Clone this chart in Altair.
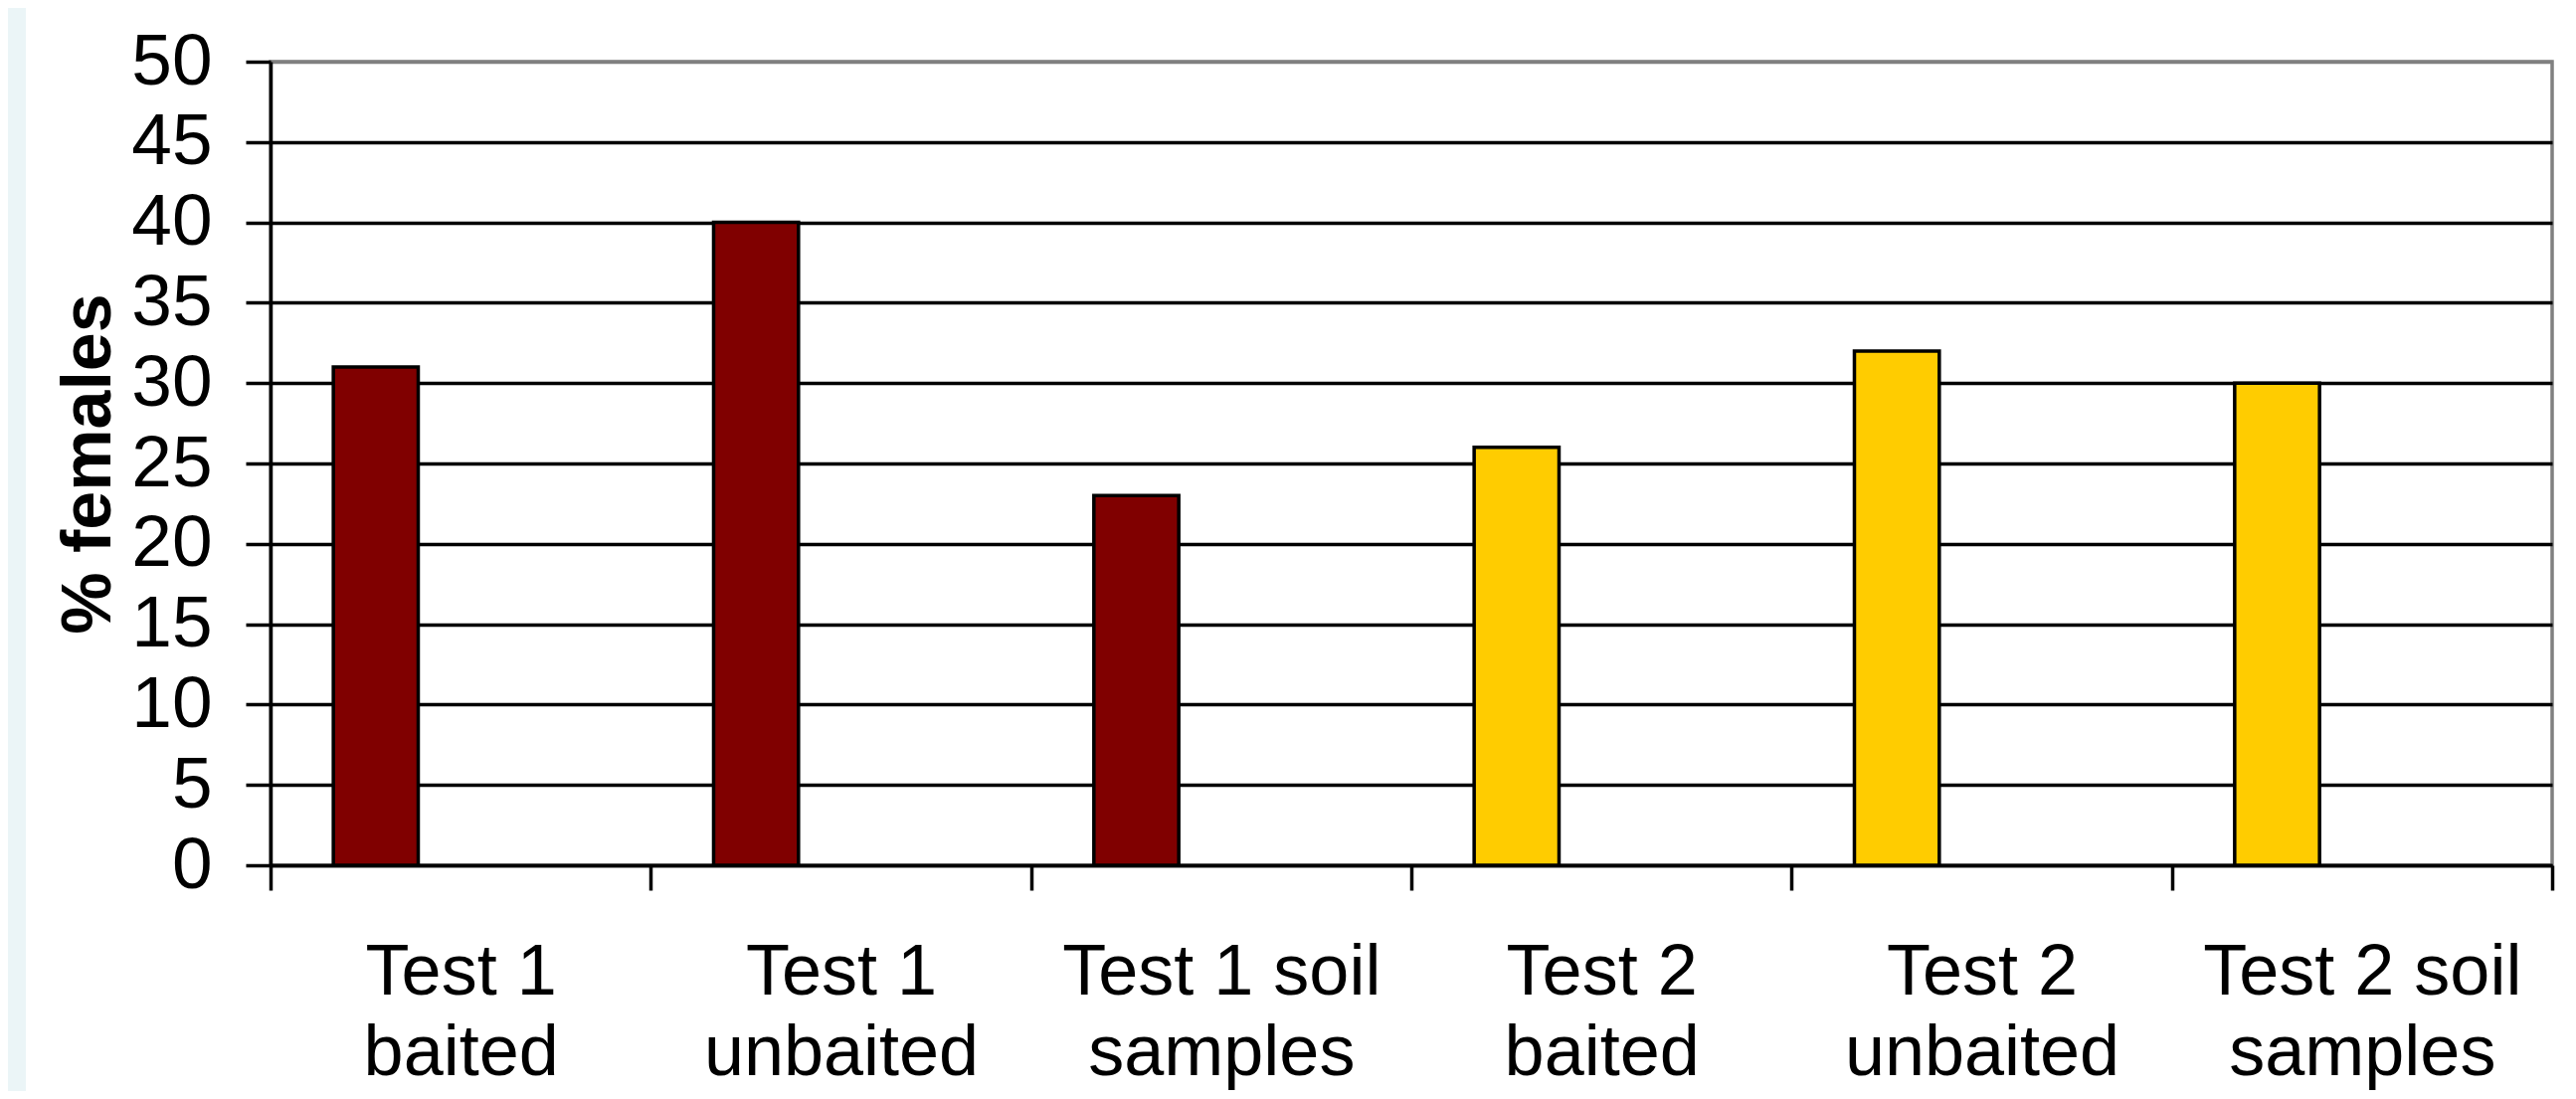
import altair as alt
import pandas as pd

# ---- data ----
categories = [
    "Test 1\nbaited",
    "Test 1\nunbaited",
    "Test 1 soil\nsamples",
    "Test 2\nbaited",
    "Test 2\nunbaited",
    "Test 2 soil\nsamples",
]
groups = ["Test 1", "Test 1", "Test 1", "Test 2", "Test 2", "Test 2"]
pct_females = [31, 40, 23, 26, 32, 30]
y_ticks = [0, 5, 10, 15, 20, 25, 30, 35, 40, 45, 50]
group_names = ["Test 1", "Test 2"]
group_colors = ["#800000", "#FFCC00"]
slots = ["A", "B", "C"]  # Excel-style clustered slots; bars sit in the first slot

df = pd.DataFrame({
    "cat": categories,
    "group": groups,
    "value": pct_females,
    "slot": ["A"] * len(categories),
})

FONT = "Liberation Sans"
W, H = 2294, 808

bars = alt.Chart(df).mark_bar(stroke="black", strokeWidth=3.5, strokeJoin="miter").encode(
    x=alt.X(
        "cat:N",
        sort=categories,
        title=None,
        scale=alt.Scale(paddingInner=0, paddingOuter=0),
        axis=alt.Axis(
            labelExpr="split(datum.label, '\\n')",
            labelAngle=0,
            labelFontSize=72,
            labelFont=FONT,
            labelColor="black",
            labelLineHeight=81,
            labelPadding=47,
            tickBand="extent",
            tickSize=25,
            tickWidth=3.5,
            tickColor="black",
            domainColor="black",
            domainWidth=3.5,
            grid=False,
            labelLimit=1000,
        ),
    ),
    xOffset=alt.XOffset(
        "slot:N",
        scale=alt.Scale(domain=slots, paddingInner=0, paddingOuter=0.74),
    ),
    y=alt.Y(
        "value:Q",
        title="% females",
        scale=alt.Scale(domain=[0, 50], nice=False),
        axis=alt.Axis(
            values=y_ticks,
            labelFontSize=73,
            labelFont=FONT,
            labelColor="black",
            labelPadding=34,
            tickSize=25,
            tickWidth=3.5,
            tickColor="black",
            domainColor="black",
            domainWidth=3.5,
            grid=True,
            gridColor={"condition": {"test": "datum.value === 50", "value": "#808080"}, "value": "black"},
            gridWidth=3.5,
            titleFont=FONT,
            titleFontSize=70,
            titleFontWeight="bold",
            titleColor="black",
            titleAngle=270,
            titleBaseline="alphabetic",
            titleAlign="center",
            titleX=-162,
            titleY=H / 2,
        ),
    ),
    color=alt.Color(
        "group:N",
        scale=alt.Scale(domain=group_names, range=group_colors),
        legend=None,
    ),
)

strip = alt.Chart(pd.DataFrame({"k": [0]})).mark_rect(color="#EBF5F7").encode(
    x=alt.value(-264),
    x2=alt.value(-246),
    y=alt.value(-54),
    y2=alt.value(1040),
)

chart = alt.layer(strip, bars).properties(
    width=W,
    height=H,
    autosize=alt.AutoSizeParams(type="none"),
    padding={"left": 264, "top": 54, "right": 10, "bottom": 227},
    background="white",
).configure_view(
    stroke="#808080",
    strokeWidth=3.5,
    fill="white",
)

chart.save("out.html", embed_options={"renderer": "svg", "actions": False})
